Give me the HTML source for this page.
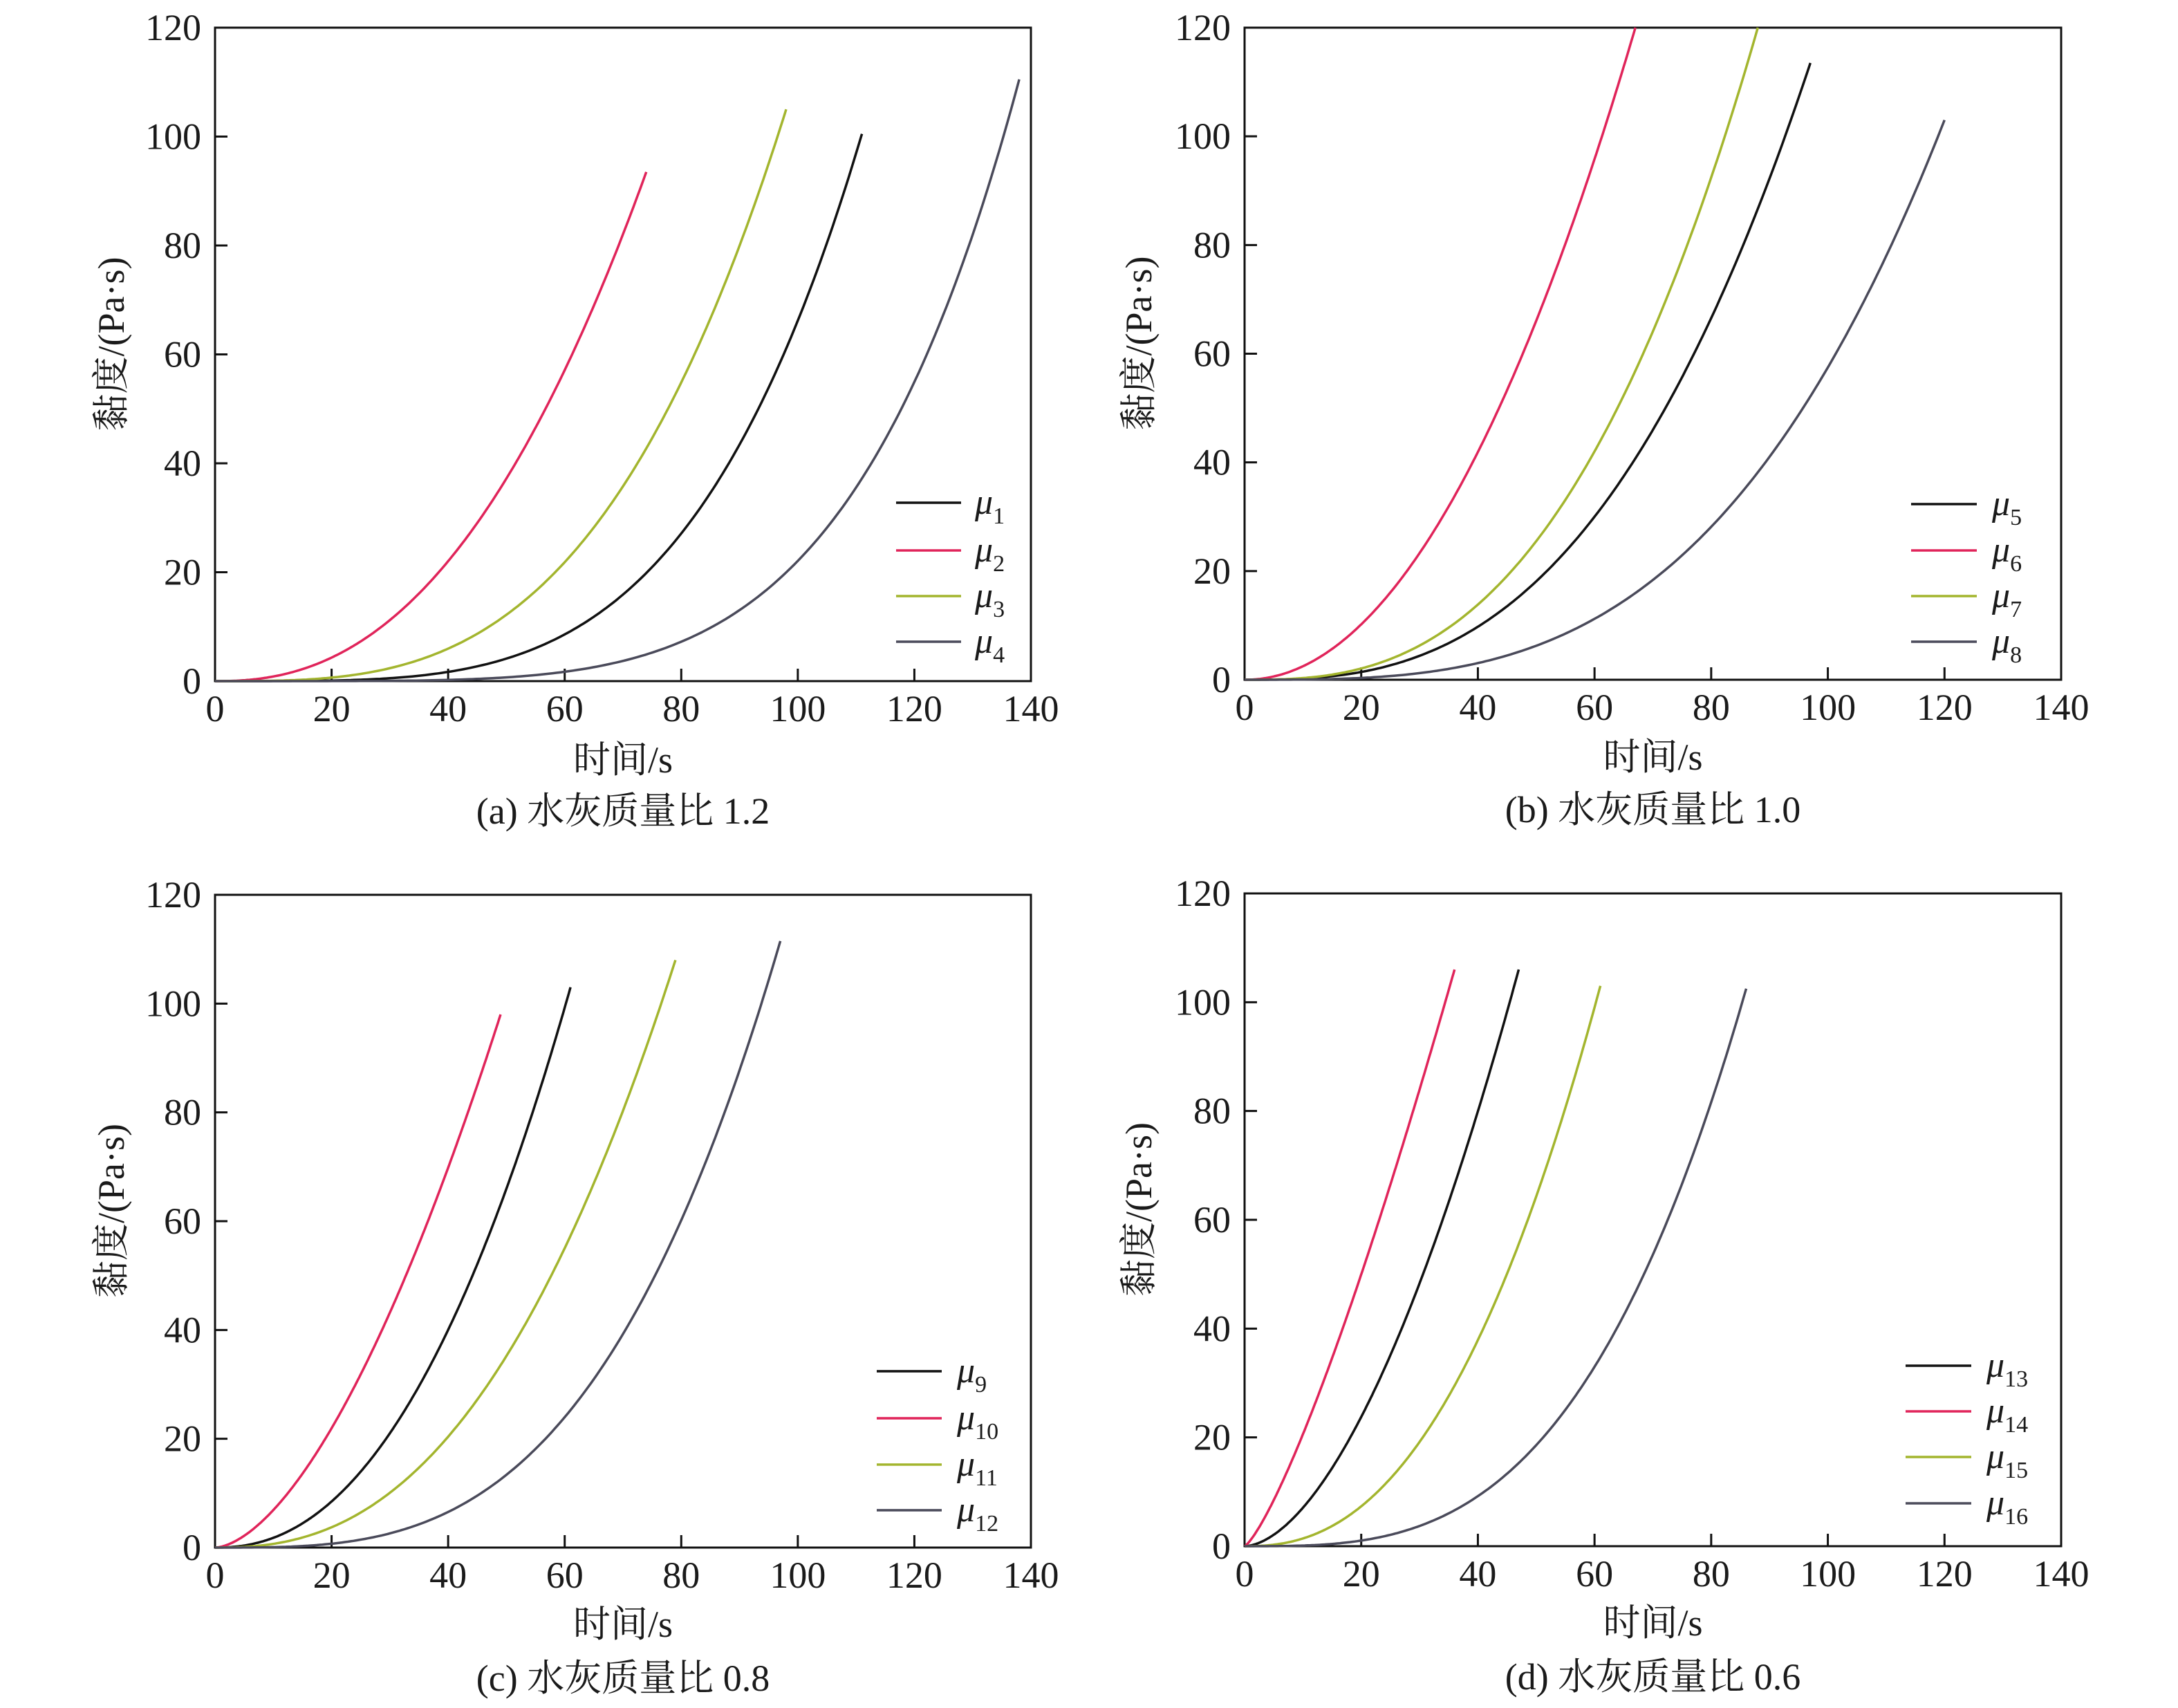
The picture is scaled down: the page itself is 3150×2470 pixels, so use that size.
<!DOCTYPE html>
<html><head><meta charset="utf-8"><style>
html,body{margin:0;padding:0;background:#fff;}
svg{display:block;}
text{font-family:"Liberation Serif","Noto Serif CJK SC",serif;fill:#1a1a1a;}
</style></head><body>
<svg id="s" width="3150" height="2470" viewBox="0 0 3150 2470" xmlns="http://www.w3.org/2000/svg"></svg>
<script>
const S=document.getElementById('s');let h='';
const panels=[
 {L:311,R:1491,T:40,B:985,cap:"(a) 水灰质量比 1.2",xt:1099,cy:1173,yx:161,
  leg:{x1:1296,x2:1390,lx:1410,ys:[727,796,862,928],n:[1,2,3,4]},
  c:[["#111",111,100.5,4],["#e0245a",74,93.5,2.35],["#a3b52e",98,105,3.2],["#4a4a5a",138,110.5,5.0]]},
 {L:1800,R:2981,T:40,B:983,cap:"(b) 水灰质量比 1.0",xt:1095,cy:1171,yx:1647,
  leg:{x1:2764,x2:2859,lx:2881,ys:[729,796,862,928],n:[5,6,7,8]},
  c:[["#111",97,113.5,2.77],["#e0245a",67,120,2.04],["#a3b52e",88,120,2.74],["#4a4a5a",120,103,3.2]]},
 {L:311,R:1491,T:1294,B:2238,cap:"(c) 水灰质量比 0.8",xt:2349,cy:2427,yx:161,
  leg:{x1:1268,x2:1362,lx:1384,ys:[1983,2051,2118,2184],n:[9,10,11,12]},
  c:[["#111",61,103,2.24],["#e0245a",49,98,1.67],["#a3b52e",79,108,2.45],["#4a4a5a",97,111.5,3.2]]},
 {L:1800,R:2981,T:1292,B:2236,cap:"(d) 水灰质量比 0.6",xt:2347,cy:2425,yx:1647,
  leg:{x1:2756,x2:2851,lx:2873,ys:[1975,2041,2107,2174],n:[13,14,15,16]},
  c:[["#111",47,106,1.75],["#e0245a",36,106,1.28],["#a3b52e",61,103,2.37],["#4a4a5a",86,102.5,3.15]]}
];
const legc=["#111","#e0245a","#a3b52e","#4a4a5a"];
for(const p of panels){
 const X=t=>p.L+(p.R-p.L)*t/140, Y=v=>p.B-(p.B-p.T)*v/120;
 h+=`<rect x="${p.L}" y="${p.T}" width="${p.R-p.L}" height="${p.B-p.T}" fill="none" stroke="#111" stroke-width="3"/>`;
 for(let t=0;t<=140;t+=20){const x=X(t);
  if(t>0&&t<140)h+=`<line x1="${x}" y1="${p.B}" x2="${x}" y2="${p.B-18}" stroke="#111" stroke-width="3"/>`;
  h+=`<text x="${x}" y="${p.B+58}" font-size="54" text-anchor="middle">${t}</text>`;}
 for(let v=0;v<=120;v+=20){const y=Y(v);
  if(v>0&&v<120)h+=`<line x1="${p.L}" y1="${y}" x2="${p.L+18}" y2="${y}" stroke="#111" stroke-width="3"/>`;
  h+=`<text x="${p.L-20}" y="${y+18}" font-size="54" text-anchor="end">${v}</text>`;}
 const cx=(p.L+p.R)/2;
 h+=`<text x="${cx}" y="${p.xt+18}" font-size="54" text-anchor="middle">时间/s</text>`;
 h+=`<text x="${cx}" y="${p.cy+18}" font-size="54" text-anchor="middle">${p.cap}</text>`;
 const my=(p.T+p.B)/2-15;
 h+=`<text transform="translate(${p.yx+18},${my}) rotate(-90)" font-size="54" text-anchor="middle">黏度/(Pa·s)</text>`;
 for(const [col,te,ve,n] of p.c){let d='';
  for(let i=0;i<=200;i++){const t=te*i/200,v=ve*Math.pow(t/te,n);d+=(i?'L':'M')+X(t).toFixed(1)+' '+Y(v).toFixed(1);}
  h+=`<path d="${d}" fill="none" stroke="${col}" stroke-width="3.5"/>`;}
 p.leg.ys.forEach((y,i)=>{
  h+=`<line x1="${p.leg.x1}" y1="${y}" x2="${p.leg.x2}" y2="${y}" stroke="${legc[i]}" stroke-width="3.5"/>`;
  h+=`<text x="${p.leg.lx}" y="${y+16}" font-size="52" font-style="italic">μ<tspan font-style="normal" font-size="34" dy="14">${p.leg.n[i]}</tspan></text>`;});
}
S.innerHTML=h;
</script>
</body></html>
